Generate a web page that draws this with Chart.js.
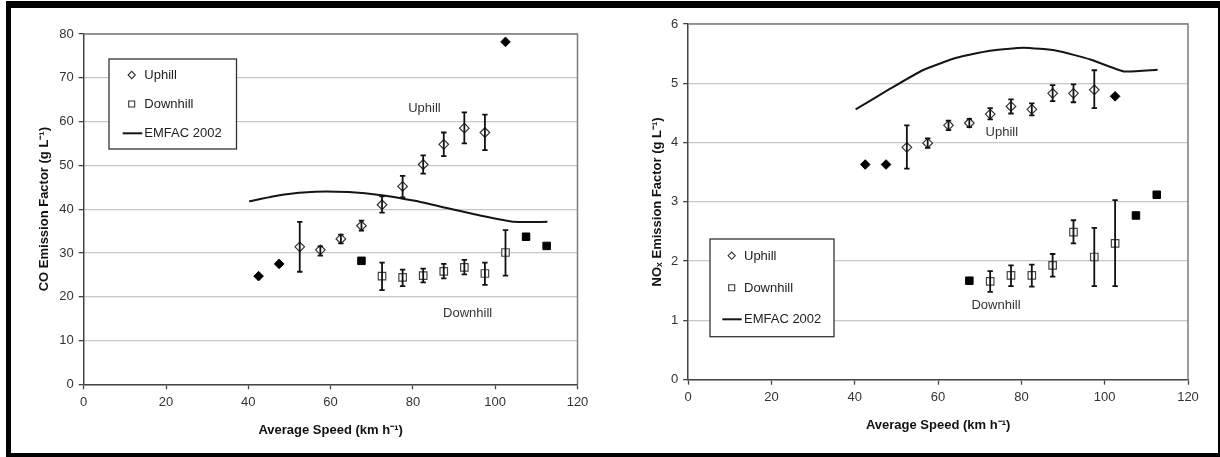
<!DOCTYPE html>
<html><head><meta charset="utf-8">
<script src="https://cdn.jsdelivr.net/npm/chart.js@4.4.1/dist/chart.umd.min.js"></script>
<style>
html,body{margin:0;padding:0;background:#fff;width:1220px;height:457px;overflow:hidden;}
#frame{position:absolute;left:6px;top:1px;width:1214px;height:456px;box-sizing:border-box;border-style:solid;border-color:#000;border-width:7px 2px 4px 5px;}
canvas{position:absolute;top:0;}
#c1{left:0px;} #c2{left:610px;}
</style></head><body>
<div id="frame"></div>
<canvas id="c1" width="610" height="457"></canvas>
<canvas id="c2" width="610" height="457"></canvas>
<script>
// ---------- data ----------
const speedTicksMax = 120;
const emfacSpeed = [40.2, 48.3, 56.3, 64.4, 72.4, 80.5, 88.5, 96.6, 104.6, 112.7];

// CO (g/L)
const coUpX   = [52.5, 57.5, 62.5, 67.5, 72.5, 77.5, 82.5, 87.5, 92.5, 97.5];
const coUpY   = [31.4, 30.7, 33.2, 36.2, 41.0, 45.2, 50.2, 54.8, 58.5, 57.5];
const coUpHi  = [37.1, 31.5, 34.2, 37.4, 42.9, 47.6, 52.3, 57.5, 62.1, 61.6];
const coUpLo  = [25.7, 29.4, 32.2, 35.1, 39.2, 42.7, 48.1, 52.1, 55.0, 53.5];
const coUpSingleX = [42.5, 47.5, 102.5];
const coUpSingleY = [24.7, 27.5, 78.2];
const coDnX   = [72.5, 77.5, 82.5, 87.5, 92.5, 97.5, 102.5];
const coDnY   = [24.7, 24.4, 24.8, 25.8, 26.7, 25.3, 30.1];
const coDnHi  = [27.8, 26.2, 26.4, 27.5, 28.4, 27.8, 35.2];
const coDnLo  = [21.5, 22.4, 23.3, 24.2, 25.1, 22.7, 24.8];
const coDnSingleX = [67.5, 107.5, 112.5];
const coDnSingleY = [28.2, 33.7, 31.6];
const coEmfac = [41.8, 43.3, 44.0, 43.9, 43.2, 41.9, 40.2, 38.5, 37.1, 37.1];

// NOx (g/L)
const noUpX   = [52.5, 57.5, 62.5, 67.5, 72.5, 77.5, 82.5, 87.5, 92.5, 97.5];
const noUpY   = [3.92, 3.99, 4.29, 4.33, 4.48, 4.61, 4.56, 4.83, 4.83, 4.89];
const noUpHi  = [4.29, 4.07, 4.37, 4.40, 4.58, 4.73, 4.66, 4.97, 4.98, 5.22];
const noUpLo  = [3.56, 3.91, 4.21, 4.26, 4.39, 4.49, 4.46, 4.70, 4.68, 4.58];
const noUpSingleX = [42.5, 47.5, 102.5];
const noUpSingleY = [3.63, 3.63, 4.78];
const noDnX   = [72.5, 77.5, 82.5, 87.5, 92.5, 97.5, 102.5];
const noDnY   = [1.66, 1.76, 1.76, 1.93, 2.49, 2.07, 2.30];
const noDnHi  = [1.83, 1.93, 1.94, 2.12, 2.69, 2.56, 3.03];
const noDnLo  = [1.48, 1.58, 1.57, 1.74, 2.30, 1.58, 1.58];
const noDnSingleX = [67.5, 107.5, 112.5];
const noDnSingleY = [1.67, 2.77, 3.12];
const noEmfac = [4.56, 4.90, 5.22, 5.43, 5.55, 5.60, 5.55, 5.40, 5.20, 5.23];

// tick settings
const xTickStep = 20;
const coYMax = 80, coYStep = 10;
const noYMax = 6,  noYStep = 1;

// text
const legendLabels = ['Uphill', 'Downhill', 'EMFAC 2002'];
const xTitle = 'Average Speed (km h\u207B\u00B9)';
const coYTitle = 'CO Emission Factor (g L\u207B\u00B9)';
const noYTitle = 'NO\u2093 Emission Factor (g L\u207B\u00B9)';
const coNotes = [{text: 'Uphill', x: 82.8, y: 62.9}, {text: 'Downhill', x: 93.3, y: 16.3}];
const noNotes = [{text: 'Uphill', x: 75.3, y: 4.17}, {text: 'Downhill', x: 73.9, y: 1.25}];

// ---------- helpers ----------
const FONT = "'Liberation Sans', Arial, Helvetica, sans-serif";
Chart.defaults.font.family = FONT;
Chart.defaults.font.size = 13;
Chart.defaults.color = '#333';

const pts = (xs, ys) => xs.map((x, i) => ({x: x, y: ys[i]}));

function datasets(upX, upY, upHi, upLo, upSX, upSY, dnX, dnY, dnHi, dnLo, dnSX, dnSY, emY) {
  return [
    {label: 'Uphill', data: pts(upX, upY), pointStyle: 'rectRot', pointRadius: 4.8,
     backgroundColor: '#fff', borderColor: '#333', pointBorderWidth: 1.2, errHi: upHi, errLo: upLo},
    {label: 'Uphill single', data: pts(upSX, upSY), pointStyle: 'rectRot', pointRadius: 4.8,
     backgroundColor: '#000', borderColor: '#000', pointBorderWidth: 1},
    {label: 'Downhill', data: pts(dnX, dnY), pointStyle: 'rect', pointRadius: 5.3,
     backgroundColor: '#fff', borderColor: '#444', pointBorderWidth: 1.2, errHi: dnHi, errLo: dnLo},
    {label: 'Downhill single', data: pts(dnSX, dnSY), pointStyle: 'rect', pointRadius: 5.3,
     backgroundColor: '#000', borderColor: '#000', pointBorderWidth: 1},
    {label: 'EMFAC 2002', data: pts(emfacSpeed, emY), showLine: true, borderColor: '#151515',
     borderWidth: 2, pointRadius: 0, fill: false, tension: 0.15}
  ];
}

const errorBars = {
  id: 'errorBars',
  afterDatasetsDraw(chart) {
    const ctx = chart.ctx, xs = chart.scales.x, ys = chart.scales.y;
    ctx.save();
    ctx.strokeStyle = '#111';
    ctx.lineWidth = 1.8;
    chart.data.datasets.forEach(ds => {
      if (!ds.errHi) return;
      ds.data.forEach((p, i) => {
        const px = xs.getPixelForValue(p.x);
        const yh = ys.getPixelForValue(ds.errHi[i]);
        const yl = ys.getPixelForValue(ds.errLo[i]);
        ctx.beginPath();
        ctx.moveTo(px, yh); ctx.lineTo(px, yl);
        ctx.moveTo(px - 2.7, yh); ctx.lineTo(px + 2.7, yh);
        ctx.moveTo(px - 2.7, yl); ctx.lineTo(px + 2.7, yl);
        ctx.stroke();
      });
    });
    ctx.restore();
  }
};

const plotFrame = {
  id: 'plotFrame',
  beforeDatasetsDraw(chart) {
    const {ctx, chartArea: a} = chart;
    ctx.save();
    ctx.strokeStyle = '#7c7c7c';
    ctx.lineWidth = 1.5;
    ctx.beginPath();
    ctx.moveTo(a.left, a.top); ctx.lineTo(a.right, a.top); ctx.lineTo(a.right, a.bottom);
    ctx.stroke();
    ctx.restore();
  }
};

const notes = {
  id: 'notes',
  afterDatasetsDraw(chart, args, opts) {
    const ctx = chart.ctx, xs = chart.scales.x, ys = chart.scales.y;
    ctx.save();
    ctx.font = '13px ' + FONT;
    ctx.fillStyle = '#333';
    ctx.textAlign = 'center';
    ctx.textBaseline = 'middle';
    (opts.items || []).forEach(n => ctx.fillText(n.text, xs.getPixelForValue(n.x), ys.getPixelForValue(n.y)));
    ctx.restore();
  }
};

const boxLegend = {
  id: 'boxLegend',
  afterDraw(chart, args, o) {
    const ctx = chart.ctx, a = chart.chartArea;
    const L = a.left + o.dx, T = a.top + o.dy;
    ctx.save();
    ctx.fillStyle = '#fff';
    ctx.fillRect(L, T, o.w, o.h);
    ctx.strokeStyle = '#333';
    ctx.lineWidth = 1.3;
    ctx.strokeRect(L, T, o.w, o.h);
    ctx.font = '13px ' + FONT;
    ctx.fillStyle = '#222';
    ctx.textAlign = 'left';
    ctx.textBaseline = 'middle';
    legendLabels.forEach((txt, i) => {
      const y = T + o.rows[i];
      const mx = L + o.markX;
      ctx.strokeStyle = '#333';
      ctx.lineWidth = 1.1;
      ctx.beginPath();
      if (i === 0) {
        const r = 3.6;
        ctx.moveTo(mx - r, y); ctx.lineTo(mx, y - r); ctx.lineTo(mx + r, y); ctx.lineTo(mx, y + r); ctx.closePath();
        ctx.stroke();
      } else if (i === 1) {
        const s = 3;
        ctx.rect(mx - s, y - s, 2 * s, 2 * s);
        ctx.stroke();
      } else {
        ctx.strokeStyle = '#151515';
        ctx.lineWidth = 2;
        ctx.moveTo(L + o.lineX0, y); ctx.lineTo(L + o.lineX1, y);
        ctx.stroke();
      }
      ctx.fillStyle = '#222';
      ctx.fillText(txt, L + o.textX, y + 0.5);
    });
    ctx.restore();
  }
};

function makeChart(id, ds, yMax, yStep, yTitle, layout, legendOpts, noteItems) {
  return new Chart(document.getElementById(id), {
    type: 'scatter',
    data: {datasets: ds},
    plugins: [plotFrame, errorBars, notes, boxLegend],
    options: {
      responsive: false,
      animation: false,
      events: [],
      devicePixelRatio: 1,
      layout: {padding: layout.padding},
      plugins: {
        legend: {display: false},
        tooltip: {enabled: false},
        notes: {items: noteItems},
        boxLegend: legendOpts
      },
      scales: {
        x: {
          type: 'linear', min: 0, max: speedTicksMax,
          ticks: {stepSize: xTickStep, padding: 5, color: '#333', font: {size: 13}},
          grid: {drawOnChartArea: false, drawTicks: true, tickLength: 5, tickColor: '#444', tickWidth: 1.3},
          border: {color: '#444', width: 1.5},
          title: {display: true, text: xTitle, color: '#111', font: {size: 13, weight: 'bold'}, padding: {top: 0, bottom: 0}},
          afterFit: s => { s.height = layout.xH; }
        },
        y: {
          type: 'linear', min: 0, max: yMax,
          ticks: {stepSize: yStep, padding: 5, color: '#333', font: {size: 13}},
          grid: {color: '#c6c6c6', lineWidth: 1.3, tickLength: 5, tickColor: '#444', tickWidth: 1.3},
          border: {color: '#444', width: 1.5},
          title: {display: true, text: yTitle, color: '#111', font: {size: 13, weight: 'bold'}, padding: {top: 0, bottom: 0}},
          afterFit: s => { s.width = layout.yW; }
        }
      }
    }
  });
}

makeChart('c1',
  datasets(coUpX, coUpY, coUpHi, coUpLo, coUpSingleX, coUpSingleY, coDnX, coDnY, coDnHi, coDnLo, coDnSingleX, coDnSingleY, coEmfac),
  coYMax, coYStep, coYTitle,
  {padding: {left: 37, right: 32.5, top: 34, bottom: 19.2}, yW: 46.7, xH: 53.5},
  {dx: 25.3, dy: 25, w: 127.5, h: 90, rows: [16, 45, 74.3], markX: 22.7, textX: 35.3, lineX0: 13.7, lineX1: 33.3},
  coNotes);

makeChart('c2',
  datasets(noUpX, noUpY, noUpHi, noUpLo, noUpSingleX, noUpSingleY, noDnX, noDnY, noDnHi, noDnLo, noDnSingleX, noDnSingleY, noEmfac),
  noYMax, noYStep, noYTitle,
  {padding: {left: 39.7, right: 32, top: 24, bottom: 23.5}, yW: 38.5, xH: 53.8},
  {dx: 21.8, dy: 215, w: 124, h: 97.7, rows: [16.7, 48.7, 80.3], markX: 21.7, textX: 34, lineX0: 12.3, lineX1: 31.7},
  noNotes);
</script>
</body></html>
